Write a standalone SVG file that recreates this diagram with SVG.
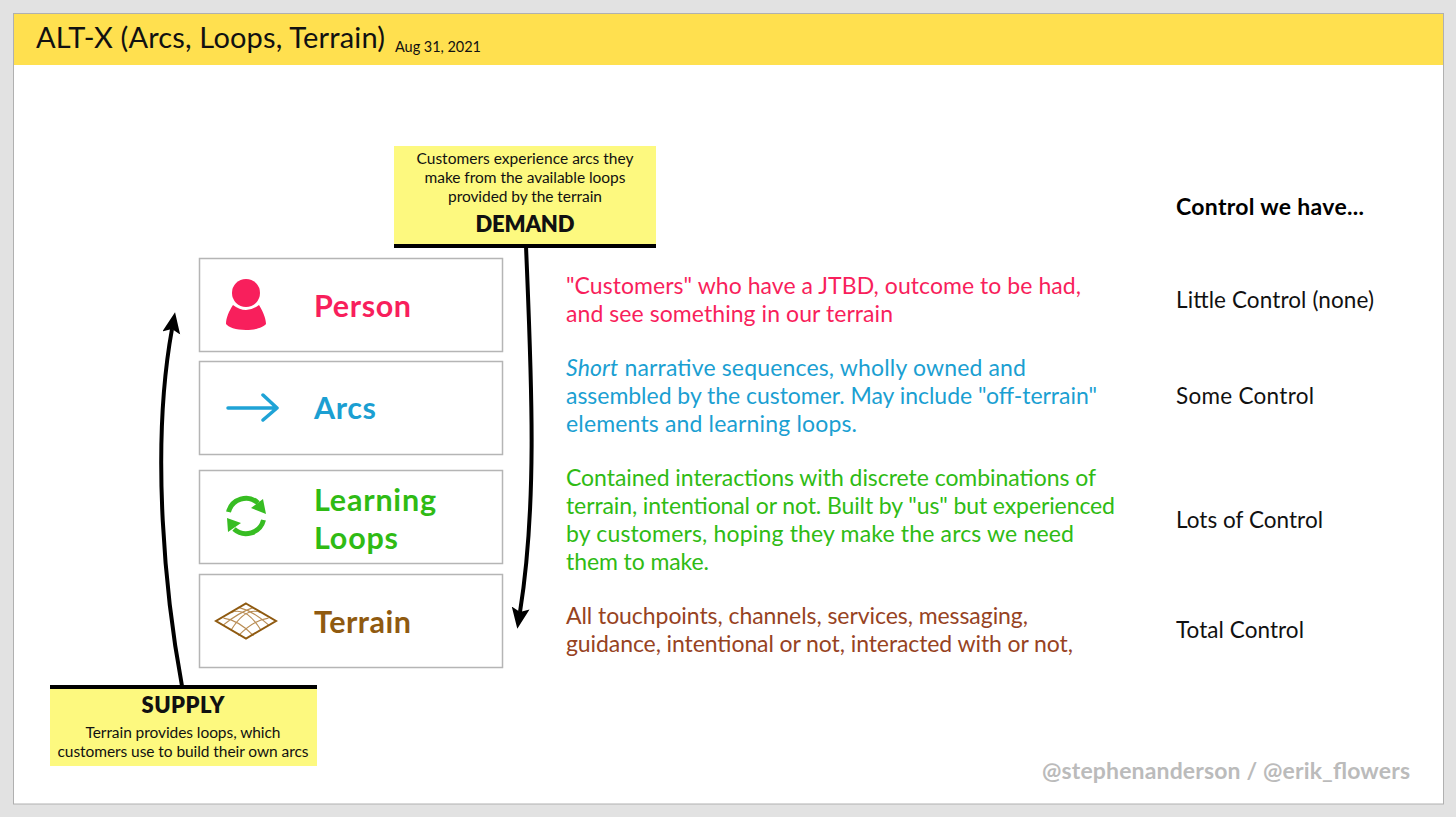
<svg xmlns="http://www.w3.org/2000/svg" width="1456" height="817" viewBox="0 0 1456 817">
<style>
text{font-family:"Lato","Liberation Sans",sans-serif;fill:#111}
.b{font-size:23px}
.r{font-size:22.500px}
.h{font-size:30.500px;font-weight:700}
.s{font-size:15.500px;text-anchor:middle}
.t{font-size:22px;font-weight:800;text-anchor:middle}
.box{fill:#fff;stroke:#b5b5b5;stroke-width:1.5}
.note{fill:#fdf97f}
.bar{fill:#000}
.con{fill:none;stroke:#000;stroke-width:4}
.red{fill:#f81f5c}.blue{fill:#1b9fd2}.green{fill:#2fbb14}.brown{fill:#97431f}
</style>
<defs>
<marker id="ah" markerUnits="userSpaceOnUse" markerWidth="24" markerHeight="20" refX="4" refY="9" orient="auto"><path d="M0 0L21 9L0 18L4 9Z" fill="#000"/></marker>
</defs>
<rect width="1456" height="817" fill="#e2e2e2"/>
<rect x="13.500" y="13.500" width="1430" height="790.500" fill="#fff" stroke="#b0b0b0"/>
<g id="header">
<rect x="14" y="14" width="1429" height="51" fill="#ffe04f"/>
<text x="36" y="48" style="font-size:29px" textLength="349">ALT-X (Arcs, Loops, Terrain)</text>
<text x="395" y="52" style="font-size:14.500px" textLength="86">Aug 31, 2021</text>
</g>
<g id="connectors">
<path class="con" d="M526 246C531 370 538 500 520 612" marker-end="url(#ah)"/>
<path class="con" d="M182 686C166 600 150 450 172 329" marker-end="url(#ah)"/>
</g>
<g id="demand">
<rect class="note" x="394" y="146" width="262" height="99"/>
<rect class="bar" x="394" y="244" width="262" height="4"/>
<text class="s" x="525" y="164" textLength="217">Customers experience arcs they</text>
<text class="s" x="525" y="183" textLength="201">make from the available loops</text>
<text class="s" x="525" y="202" textLength="154">provided by the terrain</text>
<text class="t" x="525" y="232" textLength="99">DEMAND</text>
</g>
<g id="supply">
<rect class="note" x="50" y="686" width="267" height="80"/>
<rect class="bar" x="50" y="685" width="267" height="4"/>
<text class="t" x="183" y="713" textLength="83">SUPPLY</text>
<text class="s" x="183" y="738" textLength="195">Terrain provides loops, which</text>
<text class="s" x="183" y="757" textLength="251">customers use to build their own arcs</text>
</g>
<g id="person">
<rect class="box" x="199.500" y="258.500" width="303" height="93"/>
<circle cx="246" cy="293" r="14" fill="#f81f5c"/>
<path d="M233 305Q246 315 259 305C264 313 266 320 266 324C264 327 256 330 246 330C236 330 228 327 226 324C226 318 229 311 233 305Z" fill="#f81f5c"/>
<text class="h red" x="314" y="317" textLength="97">Person</text>
</g>
<g id="arcs">
<rect class="box" x="199.500" y="361.500" width="303" height="93"/>
<path d="M228 408H277M263 395L277 408L263 420" fill="none" stroke="#1fa3d6" stroke-width="3.500" stroke-linecap="round" stroke-linejoin="round"/>
<text class="h blue" x="314" y="419" textLength="62">Arcs</text>
</g>
<g id="loops">
<rect class="box" x="199.500" y="470.500" width="303" height="93"/>
<path d="M228.500 512A18 18 0 0 1 258 503M263.500 520A18 18 0 0 1 234 529" fill="none" stroke="#37bd22" stroke-width="5"/>
<path d="M263 499L266 514L251 508ZM227 518L241 523L228 532Z" fill="#37bd22"/>
<text class="h green" x="314" y="511" textLength="122">Learning</text>
<text class="h green" x="314" y="549" textLength="84">Loops</text>
</g>
<g id="terrain">
<rect class="box" x="199.500" y="574.500" width="303" height="93"/>
<path d="M253.500 607.400Q238 613 223.500 624.900M261 612.700Q246 606 231 630.200M268.500 618.100Q253.500 620 238.500 635.600M238.500 607.400Q253.500 611 268.500 624.900M231 612.700Q246 606 261 630.200M223.500 618.100Q238.500 620 253.500 635.600" fill="none" stroke="#b98d55" stroke-width="1.200"/>
<path d="M246 603.500L276 621L246 638.500L216 621Z" fill="none" stroke="#8f5a10" stroke-width="2"/>
<text class="h" x="314" y="633" style="fill:#8f5a10" textLength="97">Terrain</text>
</g>
<g id="descriptions">
<text class="b red" x="566" y="294" textLength="515">"Customers" who have a JTBD, outcome to be had,</text>
<text class="b red" x="566" y="322" textLength="327">and see something in our terrain</text>
<text class="b blue" x="566" y="376" textLength="460"><tspan font-style="italic">Short</tspan> narrative sequences, wholly owned and</text>
<text class="b blue" x="566" y="404" textLength="531">assembled by the customer. May include "off-terrain"</text>
<text class="b blue" x="566" y="432" textLength="291">elements and learning loops.</text>
<text class="b green" x="566" y="486" textLength="530">Contained interactions with discrete combinations of</text>
<text class="b green" x="566" y="514" textLength="549">terrain, intentional or not. Built by "us" but experienced</text>
<text class="b green" x="566" y="542" textLength="508">by customers, hoping they make the arcs we need</text>
<text class="b green" x="566" y="570" textLength="143">them to make.</text>
<text class="b brown" x="566" y="624" textLength="462">All touchpoints, channels, services, messaging,</text>
<text class="b brown" x="566" y="652" textLength="507">guidance, intentional or not, interacted with or not,</text>
</g>
<g id="control">
<text x="1176" y="215" style="font-size:23px;font-weight:700;fill:#000" textLength="188">Control we have...</text>
<text class="r" x="1176" y="308" textLength="198">Little Control (none)</text>
<text class="r" x="1176" y="404" textLength="138">Some Control</text>
<text class="r" x="1176" y="528" textLength="147">Lots of Control</text>
<text class="r" x="1176" y="638" textLength="128">Total Control</text>
</g>
<text id="credit" x="1042" y="779" style="font-size:23px;font-weight:700;fill:#bbb" textLength="368">@stephenanderson / @erik_flowers</text>
</svg>
